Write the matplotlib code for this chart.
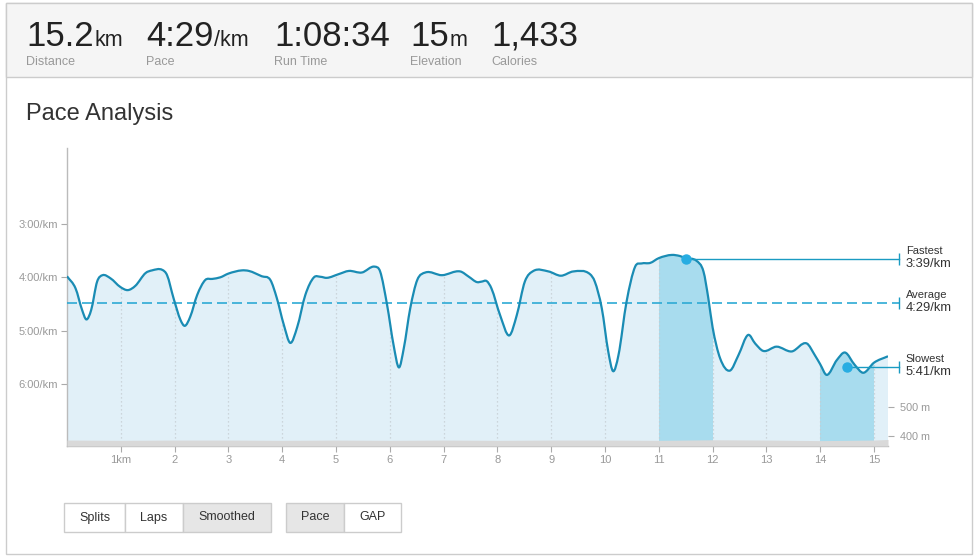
import numpy as np
import matplotlib.pyplot as plt
from matplotlib.patches import Rectangle, PathPatch
from matplotlib.path import Path

plt.rcParams['font.family'] = ['Liberation Sans', 'DejaVu Sans']

# summary header
stat_values = ['15.2', '4:29', '1:08:34', '15', '1,433']
stat_units = ['km', '/km', '', 'm', '']
stat_labels = ['Distance', 'Pace', 'Run Time', 'Elevation', 'Calories']

# smoothed pace (km, minutes per km)
km = [0.00, 0.16, 0.28, 0.36, 0.45, 0.56, 0.66, 0.81, 0.99, 1.13, 1.27, 1.46, 1.58, 1.77, 1.86,
      1.98, 2.11, 2.19, 2.29, 2.42, 2.57, 2.70, 2.85, 3.00, 3.25, 3.38, 3.62, 3.78, 3.90, 4.03,
      4.15, 4.28, 4.43, 4.59, 4.71, 4.83, 5.05, 5.24, 5.48, 5.72, 5.82, 5.95, 6.07, 6.17, 6.26,
      6.38, 6.51, 6.66, 6.97, 7.31, 7.47, 7.62, 7.71, 7.80, 7.89, 8.05, 8.22, 8.36, 8.51, 8.67,
      8.95, 9.18, 9.41, 9.72, 9.81, 9.94, 10.06, 10.15, 10.25, 10.40, 10.56, 10.68, 10.84, 11.00,
      11.24, 11.39, 11.50, 11.70, 11.83, 11.92, 12.00, 12.14, 12.32, 12.48, 12.66, 12.79, 12.94,
      13.19, 13.47, 13.75, 13.90, 14.00, 14.12, 14.31, 14.46, 14.64, 14.80, 15.00, 15.26]
pace = [3.98, 4.21, 4.61, 4.79, 4.61, 4.08, 3.96, 4.02, 4.18, 4.24, 4.16, 3.92, 3.87, 3.86, 3.96,
        4.39, 4.80, 4.91, 4.74, 4.33, 4.05, 4.03, 4.00, 3.93, 3.87, 3.88, 3.98, 4.05, 4.39, 4.89,
        5.23, 4.93, 4.33, 4.00, 3.99, 4.01, 3.94, 3.88, 3.91, 3.80, 3.89, 4.52, 5.27, 5.69, 5.33,
        4.58, 4.05, 3.91, 3.96, 3.89, 3.99, 4.09, 4.08, 4.07, 4.21, 4.71, 5.09, 4.71, 4.08, 3.88,
        3.89, 3.97, 3.89, 3.94, 4.08, 4.58, 5.39, 5.76, 5.46, 4.46, 3.80, 3.74, 3.73, 3.64,
        3.58, 3.60, 3.64, 3.69, 3.89, 4.39, 4.94, 5.52, 5.75, 5.46, 5.08, 5.24, 5.38,
        5.30, 5.39, 5.24, 5.46, 5.63, 5.83, 5.55, 5.41, 5.64, 5.79, 5.60, 5.48]

# elevation profile (m)
elev_km = [0, 1, 2, 3, 4, 5, 6, 7, 8, 9, 10, 11, 11.5, 12, 13, 14, 14.5, 15, 15.26]
elev = [386, 385, 386, 386, 385, 386, 385, 386, 385, 386, 386, 385, 386, 387, 386, 384, 385, 386, 388]

avg_pace = 4 + 29 / 60
fastest_km, fastest_pace = 11.5, 3 + 39 / 60
slowest_km, slowest_pace = 14.5, 5 + 41 / 60
fastest_split = (11, 12)
slowest_split = (14, 15)

pace_ticks = [3, 4, 5, 6]
km_ticks = list(range(1, 16))
elev_ticks = [400, 500]

W, H = 978, 560


def fx(x):
    return x / W


def fy(y):
    return 1 - y / H


def smooth_verts(x, y):
    # cubic Hermite segments written as Bezier path commands
    x = np.asarray(x, float)
    y = np.asarray(y, float)
    sec = np.diff(y) / np.diff(x)
    m = np.empty_like(y)
    m[1:-1] = (sec[:-1] + sec[1:]) / 2
    m[0], m[-1] = sec[0], sec[-1]
    verts = [(x[0], y[0])]
    codes = [Path.MOVETO]
    for i in range(len(x) - 1):
        d = (x[i + 1] - x[i]) / 3
        verts += [(x[i] + d, y[i] + m[i] * d), (x[i + 1] - d, y[i + 1] - m[i + 1] * d),
                  (x[i + 1], y[i + 1])]
        codes += [Path.CURVE4] * 3
    return verts, codes


fig = plt.figure(figsize=(9.78, 5.6), dpi=100)

# card frame and header band
fig.add_artist(Rectangle((fx(6), fy(554)), (972 - 6) / W, (554 - 3) / H,
                         fill=False, ec='#cccccc', lw=1))
fig.add_artist(Rectangle((fx(6), fy(77)), (972 - 6) / W, (77 - 3) / H,
                         fc='#f5f5f5', ec='#cccccc', lw=1))

renderer = fig.canvas.get_renderer()
stat_x = [26, 146, 274, 410, 491]
for val, unit, lab, x0 in zip(stat_values, stat_units, stat_labels, stat_x):
    t = fig.text(fx(x0), fy(46), val, fontsize=25, color='#222222', va='baseline')
    if unit:
        bb = t.get_window_extent(renderer)
        fig.text(bb.x1 / W + 1 / W, fy(46), unit, fontsize=15.5, color='#222222', va='baseline')
    fig.text(fx(x0), fy(65), lab, fontsize=9, color='#999999', va='baseline')

fig.text(fx(26), fy(120), 'Pace Analysis', fontsize=17, color='#333333', va='baseline')

# pace chart
ax = fig.add_axes([fx(67), fy(446), (888 - 67) / W, (446 - 148) / H])
bottom = 7.163
ax.set_xlim(0, 15.26)
ax.set_ylim(bottom, 1.575)

km_a = np.array(km)
pace_a = np.array(pace)
line_v, line_c = smooth_verts(km_a, pace_a)
area_v = line_v + [(km_a[-1], bottom), (km_a[0], bottom), (km_a[0], pace_a[0])]
area_c = line_c + [Path.LINETO, Path.LINETO, Path.CLOSEPOLY]
area_path = Path(area_v, area_c)

ax.add_patch(PathPatch(area_path, fc='#e1f0f8', ec='none', zorder=1))
for lo, hi in (fastest_split, slowest_split):
    p = PathPatch(area_path, fc='#a8dcee', ec='none', zorder=2)
    ax.add_patch(p)
    clip = Rectangle((lo, bottom), hi - lo, 1.575 - bottom, transform=ax.transData)
    p.set_clip_path(clip)

# dotted km gridlines under the curve
tops = np.interp(km_ticks, km_a, pace_a)
for k, top in zip(km_ticks, tops):
    ax.plot([k, k], [bottom, top], color='#c4cdd2', lw=0.9, ls=(0, (1, 2.2)), zorder=3)

ax.add_patch(PathPatch(Path(line_v, line_c), fc='none', ec='#1a8cb4', lw=1.6,
                       zorder=5, joinstyle='round'))

end_x = 15.46
ax.plot([0, end_x], [avg_pace, avg_pace], color='#2eaad4', lw=1.2, dashes=(6, 3),
        zorder=4, clip_on=False)
for xk, yk in ((fastest_km, fastest_pace), (slowest_km, slowest_pace)):
    ax.plot([xk, end_x], [yk, yk], color='#1a9bc2', lw=1, zorder=6, clip_on=False)
    ax.plot([xk], [yk], 'o', color='#27ade2', ms=6.5, zorder=7, clip_on=False)
for yk in (fastest_pace, avg_pace, slowest_pace):
    ax.plot([end_x], [yk], marker='|', color='#1a9bc2', ms=9, mew=1, clip_on=False, zorder=6)


def fmt_pace(p):
    mm = int(p)
    ss = int(round((p - mm) * 60))
    return f'{mm}:{ss:02d}/km'


for name, yk in (('Fastest', fastest_pace), ('Average', avg_pace), ('Slowest', slowest_pace)):
    ax.annotate(name, xy=(end_x, yk), xytext=(5, 5.5), textcoords='offset points',
                fontsize=8, color='#333333', va='center', ha='left', annotation_clip=False)
    ax.annotate(fmt_pace(yk), xy=(end_x, yk), xytext=(5, -3.8), textcoords='offset points',
                fontsize=9.3, color='#333333', va='center', ha='left', annotation_clip=False)

ax.set_yticks(pace_ticks)
ax.set_yticklabels([f'{p}:00/km' for p in pace_ticks])
ax.set_xticks(km_ticks)
ax.set_xticklabels(['1km'] + [str(k) for k in km_ticks[1:]])
ax.tick_params(axis='both', colors='#aaaaaa', labelcolor='#999999', labelsize=8,
               length=4, width=0.8)
ax.tick_params(axis='y', pad=2.5)
ax.tick_params(axis='x', pad=2.5)
for s in ('top', 'right'):
    ax.spines[s].set_visible(False)
for s in ('left', 'bottom'):
    ax.spines[s].set_color('#bbbbbb')
    ax.spines[s].set_linewidth(1)

# elevation on a second scale
ax2 = ax.twinx()
ax2.set_ylim(365.5, 1393)
ax2.fill_between(elev_km, elev, 365.5, color='#d9d9d9', lw=0, zorder=1)
ax2.set_yticks(elev_ticks)
ax2.set_yticklabels([f'{e} m' for e in elev_ticks])
ax2.tick_params(axis='y', colors='#aaaaaa', labelcolor='#999999', labelsize=7.8,
                length=4, width=0.8, pad=4.5)
for s in ('top', 'right', 'left', 'bottom'):
    ax2.spines[s].set_visible(False)

# toggle buttons
btn_groups = [['Splits', 'Laps', 'Smoothed'], ['Pace', 'GAP']]
btn_active = ['Smoothed', 'Pace']
btn_edges = [[64, 125, 183, 271], [286, 344, 401]]
for names, edges in zip(btn_groups, btn_edges):
    for i, name in enumerate(names):
        x0, x1 = edges[i], edges[i + 1]
        fc = '#e6e6e6' if name in btn_active else 'white'
        fig.add_artist(Rectangle((fx(x0), fy(532)), (x1 - x0) / W, (532 - 503) / H,
                                 fc=fc, ec='#cccccc', lw=1))
        fig.text(fx((x0 + x1) / 2), fy(517.5), name, fontsize=9, color='#333333',
                 ha='center', va='center')

fig.savefig('out.png', dpi=100)
